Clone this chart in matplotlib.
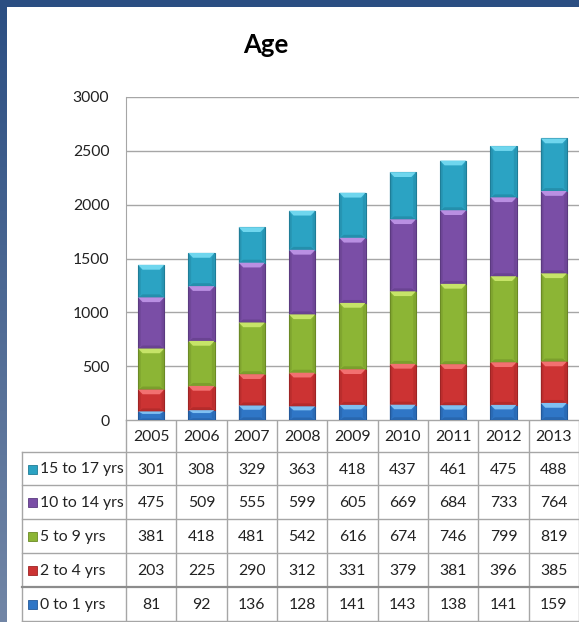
import matplotlib.pyplot as plt
import numpy as np
from matplotlib.patches import Polygon, Rectangle

years = ["2005", "2006", "2007", "2008", "2009", "2010", "2011", "2012", "2013"]
# bottom to top stacking order
series_names = ["0 to 1 yrs", "2 to 4 yrs", "5 to 9 yrs", "10 to 14 yrs", "15 to 17 yrs"]
age_0_1 = [81, 92, 136, 128, 141, 143, 138, 141, 159]
age_2_4 = [203, 225, 290, 312, 331, 379, 381, 396, 385]
age_5_9 = [381, 418, 481, 542, 616, 674, 746, 799, 819]
age_10_14 = [475, 509, 555, 599, 605, 669, 684, 733, 764]
age_15_17 = [301, 308, 329, 363, 418, 437, 461, 475, 488]
series_values = [age_0_1, age_2_4, age_5_9, age_10_14, age_15_17]

base_colors = ["#2f76c6", "#cc3333", "#8cb535", "#7a4ea6", "#2ba3c3"]
light_colors = ["#7fc0f2", "#f27070", "#c6e468", "#b98fe2", "#6fd6ee"]
dark_colors = ["#23599a", "#9e2424", "#6b8a25", "#5b3a80", "#1f7d97"]

W, H = 579, 622
fig = plt.figure(figsize=(W / 100, H / 100), dpi=100)
fig.patch.set_facecolor("white")
FONT = "Lato"
FS = 11.3


def fx(px):
    return px / W


def fy(py):
    return 1 - py / H


# blue frame on the left and top
frame = fig.add_axes([0, 0, fx(7), 1])
grad = np.linspace(0, 1, 256).reshape(-1, 1)
top_c = np.array([0x2b, 0x4e, 0x82]) / 255
bot_c = np.array([0x72, 0x86, 0xa6]) / 255
img = top_c + grad[:, :, None] * (bot_c - top_c)
frame.imshow(img, aspect="auto", extent=[0, 1, 0, 1])
frame.axis("off")
topbar = fig.add_axes([0, fy(7), 1, 7 / H])
topbar.set_facecolor("#2b4e82")
topbar.set_xticks([])
topbar.set_yticks([])
for s in topbar.spines.values():
    s.set_visible(False)

fig.text(fx(266), fy(45), "Age", ha="center", va="center",
         fontsize=18.5, fontweight="bold", family=FONT)

# chart area
left, right, top, bottom = 126, 579, 97, 420
ax = fig.add_axes([fx(left), fy(bottom), fx(right - left), (bottom - top) / H])
ax.set_xlim(-0.5, len(years) - 0.5)
ax.set_ylim(0, 3000)
ax.set_yticks(np.arange(0, 3001, 500))
ax.set_yticklabels([str(v) for v in range(0, 3001, 500)], family=FONT,
                   fontsize=FS, color="#222222")
ax.tick_params(axis="y", length=0, pad=12)
ax.set_xticks([])
ax.grid(axis="y", color="#a6a6a6", linewidth=1)
ax.set_axisbelow(True)
for name in ["top", "right", "bottom"]:
    ax.spines[name].set_visible(False)
ax.spines["left"].set_color("#a6a6a6")

x = np.arange(len(years))
width = 0.52
bev_y = 45  # bevel depth in data units
bev_x = 0.09
bottoms = np.zeros(len(years))
for vals, c, lc, dc in zip(series_values, base_colors, light_colors, dark_colors):
    vals = np.array(vals, dtype=float)
    ax.bar(x, vals, width, bottom=bottoms, color=c, edgecolor=dc, linewidth=0.8, zorder=2)
    for xi, b, v in zip(x, bottoms, vals):
        x0, x1 = xi - width / 2, xi + width / 2
        t = b + v
        d = min(bev_y, v * 0.3)
        ax.add_patch(Polygon([[x0, t], [x1, t], [x1 - bev_x, t - d], [x0 + bev_x, t - d]],
                             closed=True, facecolor=lc, edgecolor="none", zorder=3))
        ax.add_patch(Polygon([[x0, b], [x1, b], [x1 - bev_x, b + d * 0.6], [x0 + bev_x, b + d * 0.6]],
                             closed=True, facecolor=dc, edgecolor="none", alpha=0.5, zorder=3))
        ax.add_patch(Polygon([[x0, b], [x0 + bev_x * 0.6, b + d * 0.6], [x0 + bev_x * 0.6, t - d], [x0, t]],
                             closed=True, facecolor=dc, edgecolor="none", alpha=0.35, zorder=3))
        ax.add_patch(Polygon([[x1, b], [x1 - bev_x * 0.6, b + d * 0.6], [x1 - bev_x * 0.6, t - d], [x1, t]],
                             closed=True, facecolor=dc, edgecolor="none", alpha=0.35, zorder=3))
    bottoms += vals

# data table drawn in pixel space
tab = fig.add_axes([0, 0, 1, 1], zorder=-1)
tab.set_xlim(0, W)
tab.set_ylim(H, 0)
tab.axis("off")
line_c = "#a6a6a6"
col_w = (right - left) / len(years)
header_top, header_bot = 420, 452
row_edges = [452, 485, 519, 553, 587, 621]
label_left = 22

tab.plot([left, right], [header_top, header_top], color=line_c, lw=1)
for i in range(len(years) + 1):
    xv = left + i * col_w
    tab.plot([xv, xv], [header_top, row_edges[-1]], color=line_c, lw=1)
tab.plot([label_left, label_left], [row_edges[0], row_edges[-1]], color=line_c, lw=1)
for k, ry in enumerate(row_edges):
    lw = 1.6 if k == 4 else 1
    col = "#8c8c8c" if k == 4 else line_c
    tab.plot([label_left, right], [ry, ry], color=col, lw=lw)

for i, yr in enumerate(years):
    tab.text(left + (i + 0.5) * col_w, (header_top + header_bot) / 2 + 1, yr,
             ha="center", va="center", fontsize=FS, family=FONT, color="#222222")

# table rows listed top to bottom (reverse of stacking)
for r, si in enumerate(range(len(series_names) - 1, -1, -1)):
    yc = (row_edges[r] + row_edges[r + 1]) / 2 + 1
    tab.add_patch(Rectangle((28, yc - 5), 9, 9, facecolor=base_colors[si],
                            edgecolor=dark_colors[si], lw=0.6))
    tab.text(40, yc, series_names[si], ha="left", va="center", fontsize=FS,
             family=FONT, color="#222222")
    for i, v in enumerate(series_values[si]):
        tab.text(left + (i + 0.5) * col_w, yc, str(v), ha="center", va="center",
                 fontsize=FS, family=FONT, color="#222222")

fig.savefig("out.png", dpi=100, facecolor="white")
